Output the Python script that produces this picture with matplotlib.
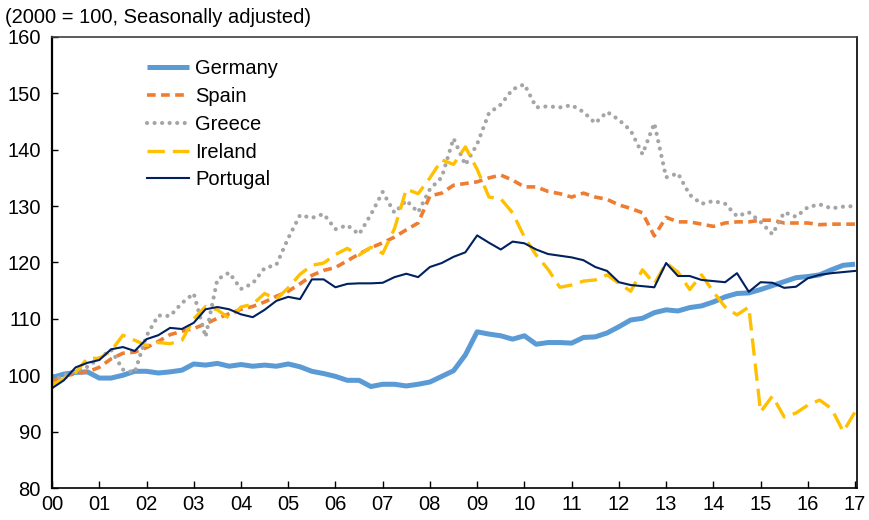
import matplotlib
matplotlib.use("Agg")
import matplotlib.pyplot as plt
import numpy as np

plt.rcParams['font.family'] = ['Liberation Sans', 'DejaVu Sans']

# Quarterly index values, 2000Q1 .. 2017Q1 (2000 = 100)
start_year = 2000
germany = [99.6, 100.2, 100.5, 100.6, 99.5, 99.5, 100.0, 100.7, 100.7, 100.4,
           100.6, 100.9, 102.0, 101.8, 102.1, 101.6, 101.9, 101.6, 101.8, 101.6,
           102.0, 101.5, 100.7, 100.3, 99.8, 99.1, 99.1, 98.0, 98.4, 98.4,
           98.1, 98.4, 98.8, 99.8, 100.8, 103.6, 107.7, 107.3, 107.0, 106.4,
           107.0, 105.5, 105.8, 105.8, 105.7, 106.7, 106.8, 107.5, 108.6, 109.8,
           110.1, 111.1, 111.6, 111.4, 112.0, 112.3, 113.0, 113.9, 114.5, 114.6,
           115.2, 115.9, 116.6, 117.3, 117.5, 117.8, 118.7, 119.5, 119.7]
spain = [98.9, 99.8, 100.3, 100.6, 101.4, 102.9, 103.9, 104.1, 104.9, 106.0,
         107.2, 107.8, 108.3, 109.1, 110.1, 110.9, 111.7, 112.2, 113.0, 114.0,
         114.9, 116.2, 117.7, 118.6, 119.1, 120.3, 121.5, 122.6, 123.5, 124.5,
         125.8, 127.0, 131.8, 132.3, 133.7, 134.0, 134.3, 135.0, 135.5, 134.6,
         133.4, 133.4, 132.6, 132.2, 131.6, 132.3, 131.6, 131.2, 130.2, 129.6,
         128.8, 124.7, 128.0, 127.2, 127.2, 126.8, 126.4, 127.0, 127.2, 127.2,
         127.5, 127.5, 127.0, 127.0, 127.0, 126.7, 126.8, 126.8, 126.8]
greece = [99.0, 100.0, 100.8, 101.5, 103.0, 104.5, 101.0, 100.5, 107.0, 110.6,
          110.5, 112.8, 114.5, 106.8, 117.0, 118.2, 115.3, 116.3, 119.0, 119.6,
          124.3, 128.4, 127.9, 128.6, 125.9, 126.6, 125.0, 128.5, 132.5, 128.8,
          131.0, 128.9, 133.0, 135.1, 142.0, 137.3, 141.0, 146.5, 148.0, 150.7,
          151.6, 147.5, 147.7, 147.5, 147.9, 146.7, 144.7, 146.7, 145.3, 143.4,
          139.2, 144.7, 135.1, 135.8, 132.0, 130.4, 130.9, 130.4, 128.2, 128.9,
          127.2, 125.0, 128.9, 128.1, 129.8, 130.3, 129.6, 129.9, 130.0]
ireland = [98.3, 99.4, 100.5, 103.0, 103.0, 104.3, 107.1, 106.2, 105.3, 105.8,
           105.6, 106.2, 110.0, 112.2, 111.6, 110.1, 112.1, 112.6, 114.5, 113.5,
           115.5, 117.9, 119.5, 119.9, 121.4, 122.5, 121.3, 122.7, 121.6, 126.0,
           133.0, 132.2, 135.0, 138.2, 137.4, 140.5, 136.5, 131.6, 131.3, 128.8,
           124.5, 121.3, 118.8, 115.6, 116.0, 116.7, 116.9, 117.8, 116.3, 114.9,
           118.7, 116.2, 119.9, 118.3, 115.2, 117.8, 114.8, 112.1, 110.7, 112.1,
           93.5, 96.3, 92.6, 93.3, 94.7, 95.6, 94.1, 90.0, 93.5]
portugal = [97.7, 99.1, 101.4, 102.2, 102.7, 104.6, 105.0, 104.3, 106.4, 107.1,
            108.4, 108.2, 109.3, 111.7, 112.1, 111.7, 110.8, 110.3, 111.6, 113.2,
            113.9, 113.5, 117.0, 117.0, 115.6, 116.2, 116.3, 116.3, 116.4, 117.4,
            118.0, 117.4, 119.2, 119.9, 121.0, 121.8, 124.8, 123.5, 122.3, 123.7,
            123.4, 122.3, 121.5, 121.2, 120.9, 120.4, 119.2, 118.5, 116.5, 116.0,
            115.8, 115.6, 119.9, 117.6, 117.6, 116.9, 116.7, 116.5, 118.1, 114.8,
            116.5, 116.4, 115.5, 115.7, 117.2, 117.8, 118.1, 118.3, 118.5]

year_labels = ["00", "01", "02", "03", "04", "05", "06", "07", "08", "09",
               "10", "11", "12", "13", "14", "15", "16", "17"]
y_ticks = [80, 90, 100, 110, 120, 130, 140, 150, 160]

t = start_year + np.arange(len(germany)) / 4.0

fig = plt.figure(figsize=(8.7, 5.2), dpi=100)
ax = fig.add_axes([0.0598, 0.0615, 0.9252, 0.8675])

ax.plot(t, germany, color='#5B9BD5', lw=3.6, solid_capstyle='butt',
        solid_joinstyle='round', label='Germany')
ax.plot(t, spain, color='#ED7D31', lw=2.6, linestyle=(0, (2.4, 1.5)),
        dash_capstyle='butt', label='Spain')
ax.plot(t, greece, color='#A5A5A5', lw=3.0, linestyle=(0, (0.01, 1.8)),
        dash_capstyle='round', label='Greece')
ax.plot(t, ireland, color='#FFC000', lw=2.4, linestyle=(0, (5.2, 2.4)),
        dash_capstyle='butt', label='Ireland')
ax.plot(t, portugal, color='#002060', lw=1.5, label='Portugal')

ax.set_xlim(start_year, start_year + 17.04)
ax.set_ylim(80, 160)
ax.set_yticks(y_ticks)
ax.set_xticks(start_year + np.arange(len(year_labels)))
ax.set_xticklabels(year_labels)

ax.tick_params(axis='both', which='both', direction='in', labelsize=14.5,
               color='black', width=1.0)
ax.tick_params(axis='y', length=4, pad=8)
ax.tick_params(axis='x', length=5, pad=5)

for side in ['left', 'bottom', 'right']:
    ax.spines[side].set_color('black')
ax.spines['left'].set_linewidth(1.6)
ax.spines['bottom'].set_linewidth(1.2)
ax.spines['right'].set_linewidth(1.2)
ax.spines['top'].set_color('#404040')
ax.spines['top'].set_linewidth(1.2)

leg = ax.legend(loc='upper left', bbox_to_anchor=(0.118, 0.951), frameon=False,
                fontsize=14.5, handlelength=2.1, handletextpad=0.3,
                labelspacing=0.44, borderaxespad=0, borderpad=0)

fig.text(0.006, 0.967, "(2000 = 100, Seasonally adjusted)", fontsize=14.5,
         ha='left', va='center')

fig.savefig('out.png', dpi=100)
